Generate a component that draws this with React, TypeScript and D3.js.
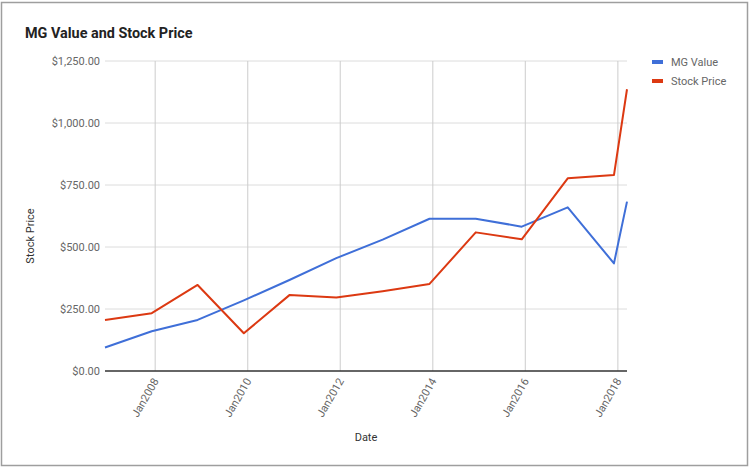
import React from "react";
import * as d3 from "d3";

const dates = ["2006-12-01", "2007-12-05", "2008-12-01", "2009-12-01", "2010-11-26", "2011-12-01", "2012-12-01", "2013-12-06", "2014-12-06", "2015-12-04", "2016-12-01", "2017-12-01", "2018-03-14"];
const mgValue = [95, 160, 206, 285, 367, 455, 530, 614, 614, 582, 660, 434, 683];
const stockPrice = [206, 233, 347, 152, 306, 296, 322, 351, 559, 531, 777, 790, 1136];
const yTicks = [0, 250, 500, 750, 1000, 1250];
const xTickYears = [2008, 2010, 2012, 2014, 2016, 2018];
const seriesNames = ["MG Value", "Stock Price"];
const seriesColors = ["#3f6fd8", "#dc3912"];

const W = 750, H = 468;
const M = { left: 105, right: 627, top: 61, bottom: 371 };
const FONT = "Roboto, 'Noto Sans', sans-serif";

export default function App() {
  const parse = d3.timeParse("%Y-%m-%d");
  const xs = dates.map((d) => parse(d) as Date);
  const x = d3.scaleTime().domain(d3.extent(xs) as [Date, Date]).range([M.left, M.right]);
  const y = d3.scaleLinear().domain([0, 1250]).range([M.bottom, M.top]);
  const fmtY = d3.format("$,.2f");
  const fmtX = d3.timeFormat("%b%Y");
  const series = [mgValue, stockPrice];
  const line = d3.line<number>().x((_, i) => x(xs[i])).y((v) => y(v));
  const tickDates = xTickYears.map((yr) => new Date(yr, 0, 1));

  return (
    <div style={{ position: "absolute", left: 0, top: 0 }}>
      <svg width={W} height={H} style={{ display: "block", fontFamily: FONT }}>
        <rect x={0} y={0} width={W} height={H} fill="#fff" />
        <rect x={1.5} y={2.5} width={746} height={463} fill="none" stroke="#9e9e9e" strokeWidth={1.5} />
        <text x={25} y={38} fontSize={14.4} fontWeight="bold" fill="#222">MG Value and Stock Price</text>
        {yTicks.map((t) => (
          <g key={t}>
            {t > 0 && <line x1={M.left} x2={M.right} y1={y(t)} y2={y(t)} stroke="#dcdcdc" strokeWidth={1} />}
            <text x={100} y={y(t) + 4} fontSize={11} textAnchor="end" fill="#666">{fmtY(t)}</text>
          </g>
        ))}
        {tickDates.map((d, i) => (
          <g key={i}>
            <line x1={x(d)} x2={x(d)} y1={M.top} y2={M.bottom} stroke="#cccccc" strokeWidth={1} />
            <text
              transform={`translate(${x(d) + 4},${M.bottom + 10}) rotate(-60)`}
              fontSize={11}
              textAnchor="end"
              fill="#666"
            >
              {fmtX(d)}
            </text>
          </g>
        ))}
        <line x1={M.left} x2={M.right} y1={M.bottom} y2={M.bottom} stroke="#333" strokeWidth={1.5} />
        {series.map((s, i) => (
          <path key={i} d={line(s) || ""} fill="none" stroke={seriesColors[i]} strokeWidth={2} strokeLinejoin="round" />
        ))}
        <text transform={`translate(34,236) rotate(-90)`} fontSize={11} textAnchor="middle" fill="#333">Stock Price</text>
        <text x={366} y={441} fontSize={11} textAnchor="middle" fill="#333">Date</text>
        {seriesNames.map((n, i) => (
          <g key={n}>
            <rect x={652} y={60 + i * 19} width={11} height={4} fill={seriesColors[i]} />
            <text x={671} y={66 + i * 19} fontSize={11} fill="#666">{n}</text>
          </g>
        ))}
      </svg>
    </div>
  );
}
